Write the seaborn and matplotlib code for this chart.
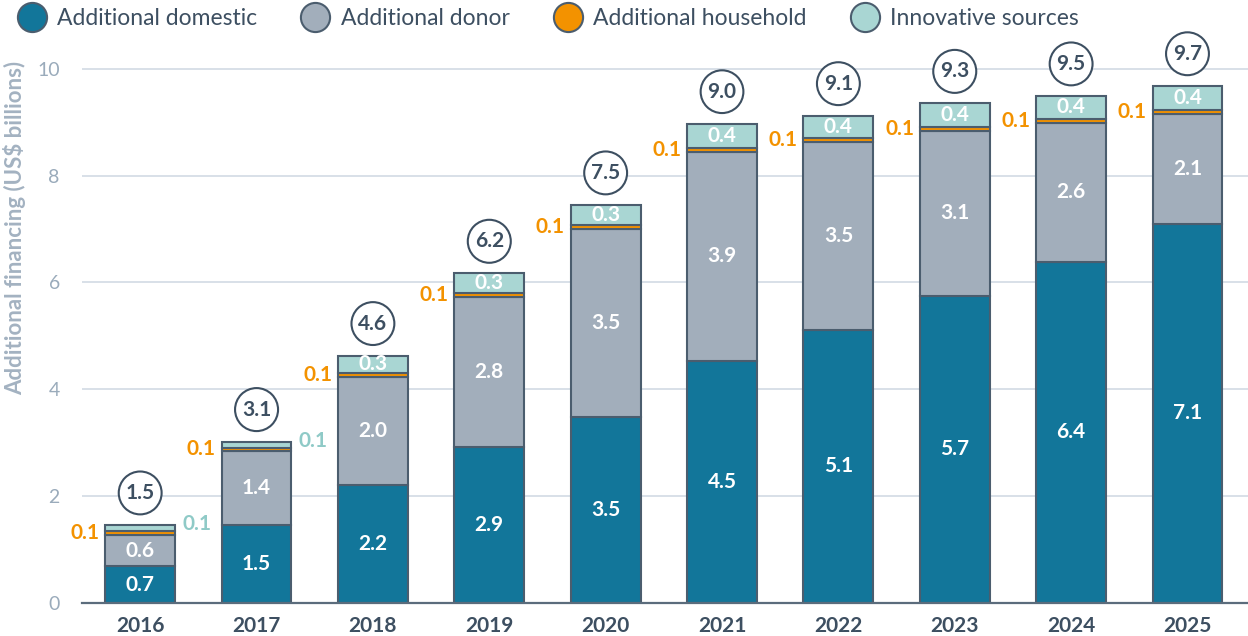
import seaborn as sns
import matplotlib.pyplot as plt
from matplotlib.lines import Line2D
import numpy as np
import pandas as pd

years = ["2016", "2017", "2018", "2019", "2020", "2021", "2022", "2023", "2024", "2025"]
domestic = [0.69, 1.46, 2.20, 2.92, 3.48, 4.53, 5.11, 5.75, 6.39, 7.10]
donor = [0.58, 1.38, 2.03, 2.81, 3.52, 3.92, 3.52, 3.09, 2.60, 2.06]
household = [0.07, 0.07, 0.07, 0.07, 0.07, 0.07, 0.07, 0.07, 0.07, 0.07]
innovative = [0.12, 0.11, 0.33, 0.37, 0.38, 0.45, 0.42, 0.44, 0.43, 0.45]
totals = [1.5, 3.1, 4.6, 6.2, 7.5, 9.0, 9.1, 9.3, 9.5, 9.7]
dom_labels = ["0.7", "1.5", "2.2", "2.9", "3.5", "4.5", "5.1", "5.7", "6.4", "7.1"]
don_labels = ["0.6", "1.4", "2.0", "2.8", "3.5", "3.9", "3.5", "3.1", "2.6", "2.1"]
hh_labels = ["0.1"] * 10
inn_labels = ["0.1", "0.1", "0.3", "0.3", "0.3", "0.4", "0.4", "0.4", "0.4", "0.4"]

c_dom = "#12769a"
c_don = "#a2aebb"
c_hh = "#f39200"
c_inn = "#a9d6d3"
c_edge = "#4b5d6e"
c_dark = "#3d4f61"

sns.set_theme(style="white")
plt.rcParams["font.family"] = ["Lato", "DejaVu Sans"]

df = pd.DataFrame({"year": years, "domestic": domestic, "donor": donor,
                   "household": household, "innovative": innovative})

fig = plt.figure(figsize=(12.48, 6.36), dpi=100)
ax = fig.add_axes([82 / 1248, 33 / 636, 1 - 82 / 1248, 561 / 636])

bottom = np.zeros(len(years))
layers = [("domestic", c_dom), ("donor", c_don), ("household", c_hh), ("innovative", c_inn)]
for col, colr in layers:
    sns.barplot(data=df, x="year", y=col, color=colr, bottom=bottom, width=0.6,
                edgecolor=c_edge, linewidth=1.5, errorbar=None, saturation=1, ax=ax)
    bottom = bottom + df[col].values

ax.set_xlim(-0.5, 9.52)
ax.set_ylim(0, 10.5)
ax.set_yticks([0, 2, 4, 6, 8, 10])
ax.yaxis.grid(True, color="#d5dde6", linewidth=1.3)
ax.set_axisbelow(True)
for s in ["top", "right", "left"]:
    ax.spines[s].set_visible(False)
ax.spines["bottom"].set_color("#5b6c7c")
ax.spines["bottom"].set_linewidth(1.6)
ax.tick_params(axis="y", length=0, pad=16, labelsize=14, labelcolor="#9aabbb")
ax.tick_params(axis="x", length=0, pad=9, labelsize=15, labelcolor=c_dark)
for t in ax.get_xticklabels():
    t.set_fontweight("bold")
ax.set_xlabel("")
ax.set_ylabel("")
fig.text(15 / 1248, 1 - 228 / 636, "Additional financing (US$ billions)", rotation=90,
         ha="center", va="center", fontsize=16, fontweight="bold", color="#a3b2c1")

half = 0.3
fs = 15
for i in range(len(years)):
    d, n, h, v = domestic[i], donor[i], household[i], innovative[i]
    ax.text(i, d / 2, dom_labels[i], ha="center", va="center", color="white",
            fontsize=fs, fontweight="bold")
    ax.text(i, d + n / 2, don_labels[i], ha="center", va="center", color="white",
            fontsize=fs, fontweight="bold")
    ax.text(i - half - 0.05, d + n + h / 2, hh_labels[i], ha="right", va="center",
            color=c_hh, fontsize=fs, fontweight="bold")
    top = d + n + h + v
    if v < 0.2:
        ax.text(i + half + 0.06, top + 0.02, inn_labels[i], ha="left", va="center",
                color="#8fcac7", fontsize=fs, fontweight="bold")
    else:
        ax.text(i, d + n + h + v / 2, inn_labels[i], ha="center", va="center",
                color="white", fontsize=fs, fontweight="bold")
    ax.text(i, top + 0.6, f"{totals[i]:.1f}", ha="center", va="center", color=c_dark,
            fontsize=fs, fontweight="bold",
            bbox=dict(boxstyle="circle,pad=0.33", fc="white", ec=c_dark, lw=1.5))

names = ["Additional domestic", "Additional donor", "Additional household", "Innovative sources"]
cols = [c_dom, c_don, c_hh, c_inn]
handles = [Line2D([], [], marker="o", linestyle="", markersize=21, markerfacecolor=c,
                  markeredgecolor=c_edge, markeredgewidth=1.5) for c in cols]
fig.legend(handles, names, loc="upper left", bbox_to_anchor=(-0.004, 1.02), ncol=4,
           frameon=False, fontsize=16.5, labelcolor=c_dark, handletextpad=0.4,
           columnspacing=1.85, handlelength=1.4)

fig.savefig("out.png", dpi=100)
